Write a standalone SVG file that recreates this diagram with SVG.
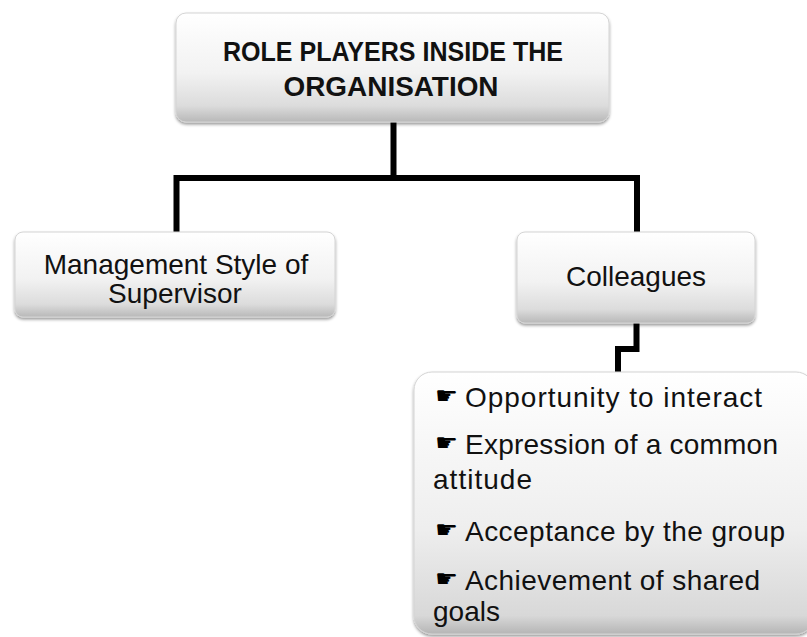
<svg xmlns="http://www.w3.org/2000/svg" width="807" height="637" viewBox="0 0 807 637">
  <defs>
    <linearGradient id="boxFill" x1="0" y1="0" x2="0" y2="1">
      <stop offset="0" stop-color="#ffffff"/>
      <stop offset="0.55" stop-color="#f2f2f2"/>
      <stop offset="0.85" stop-color="#dcdcdc"/>
      <stop offset="1" stop-color="#b8b8b8"/>
    </linearGradient>
    <linearGradient id="listFill" x1="0" y1="0" x2="0" y2="1">
      <stop offset="0" stop-color="#ffffff"/>
      <stop offset="0.6" stop-color="#eeeeee"/>
      <stop offset="0.93" stop-color="#d8d8d8"/>
      <stop offset="1" stop-color="#b5b5b5"/>
    </linearGradient>
    <filter id="shade" x="-5%" y="-10%" width="110%" height="125%">
      <feDropShadow dx="0" dy="2" stdDeviation="1.5" flood-color="#000" flood-opacity="0.4"/>
    </filter>
  </defs>
  <style>
    .box { fill: url(#boxFill); stroke: #d4d4d4; stroke-width: 1; filter: url(#shade); }
    .list { fill: url(#listFill); stroke: #d4d4d4; stroke-width: 1; filter: url(#shade); }
    .title { font-family: "Liberation Sans", Arial, sans-serif; font-weight: bold; font-size: 27px; fill: #111; text-anchor: middle; }
    .label { font-family: "Liberation Sans", Arial, sans-serif; font-size: 28px; fill: #111; text-anchor: middle; }
    .item { font-family: "Liberation Sans", Arial, sans-serif; font-size: 28px; fill: #111; }
    .bullet { font-family: "DejaVu Sans", sans-serif; font-size: 24px; fill: #000; }
    .wire { fill: none; stroke: #000; stroke-width: 6; stroke-linejoin: miter; stroke-linecap: butt; }
  </style>

  <!-- connectors -->
  <g id="connectors">
    <path class="wire" d="M393.5 122 V178"/>
    <path class="wire" d="M176.5 232 V178 H637 V232"/>
    <path class="wire" d="M636.5 323 V349 H618 V372"/>
  </g>

  <!-- root -->
  <g id="root">
    <rect class="box" x="176" y="13" width="433" height="109" rx="10"/>
    <text class="title" x="393" y="61" textLength="340" lengthAdjust="spacingAndGlyphs">ROLE PLAYERS INSIDE THE</text>
    <text class="title" x="391" y="96" textLength="215" lengthAdjust="spacingAndGlyphs">ORGANISATION</text>
  </g>

  <!-- left child -->
  <g id="management-style">
    <rect class="box" x="15" y="232" width="320" height="85" rx="8"/>
    <text class="label" x="176" y="274">Management Style of</text>
    <text class="label" x="175" y="303">Supervisor</text>
  </g>

  <!-- right child -->
  <g id="colleagues">
    <rect class="box" x="517" y="232" width="238" height="91" rx="8"/>
    <text class="label" x="636" y="286">Colleagues</text>
  </g>

  <!-- colleague factors -->
  <g id="colleague-factors">
    <rect class="list" x="414" y="372" width="400" height="262" rx="18"/>
    <text class="bullet" x="435" y="404" textLength="23" lengthAdjust="spacingAndGlyphs">☛</text>
    <text class="item" x="465" y="407" textLength="297" lengthAdjust="spacing">Opportunity to interact</text>
    <text class="bullet" x="435" y="451" textLength="23" lengthAdjust="spacingAndGlyphs">☛</text>
    <text class="item" x="465" y="454" textLength="313" lengthAdjust="spacing">Expression of a common</text>
    <text class="item" x="433" y="489" textLength="99" lengthAdjust="spacing">attitude</text>
    <text class="bullet" x="435" y="538" textLength="23" lengthAdjust="spacingAndGlyphs">☛</text>
    <text class="item" x="465" y="541" textLength="320" lengthAdjust="spacing">Acceptance by the group</text>
    <text class="bullet" x="435" y="587" textLength="23" lengthAdjust="spacingAndGlyphs">☛</text>
    <text class="item" x="465" y="590" textLength="295" lengthAdjust="spacing">Achievement of shared</text>
    <text class="item" x="433" y="621" textLength="67" lengthAdjust="spacing">goals</text>
  </g>
</svg>
